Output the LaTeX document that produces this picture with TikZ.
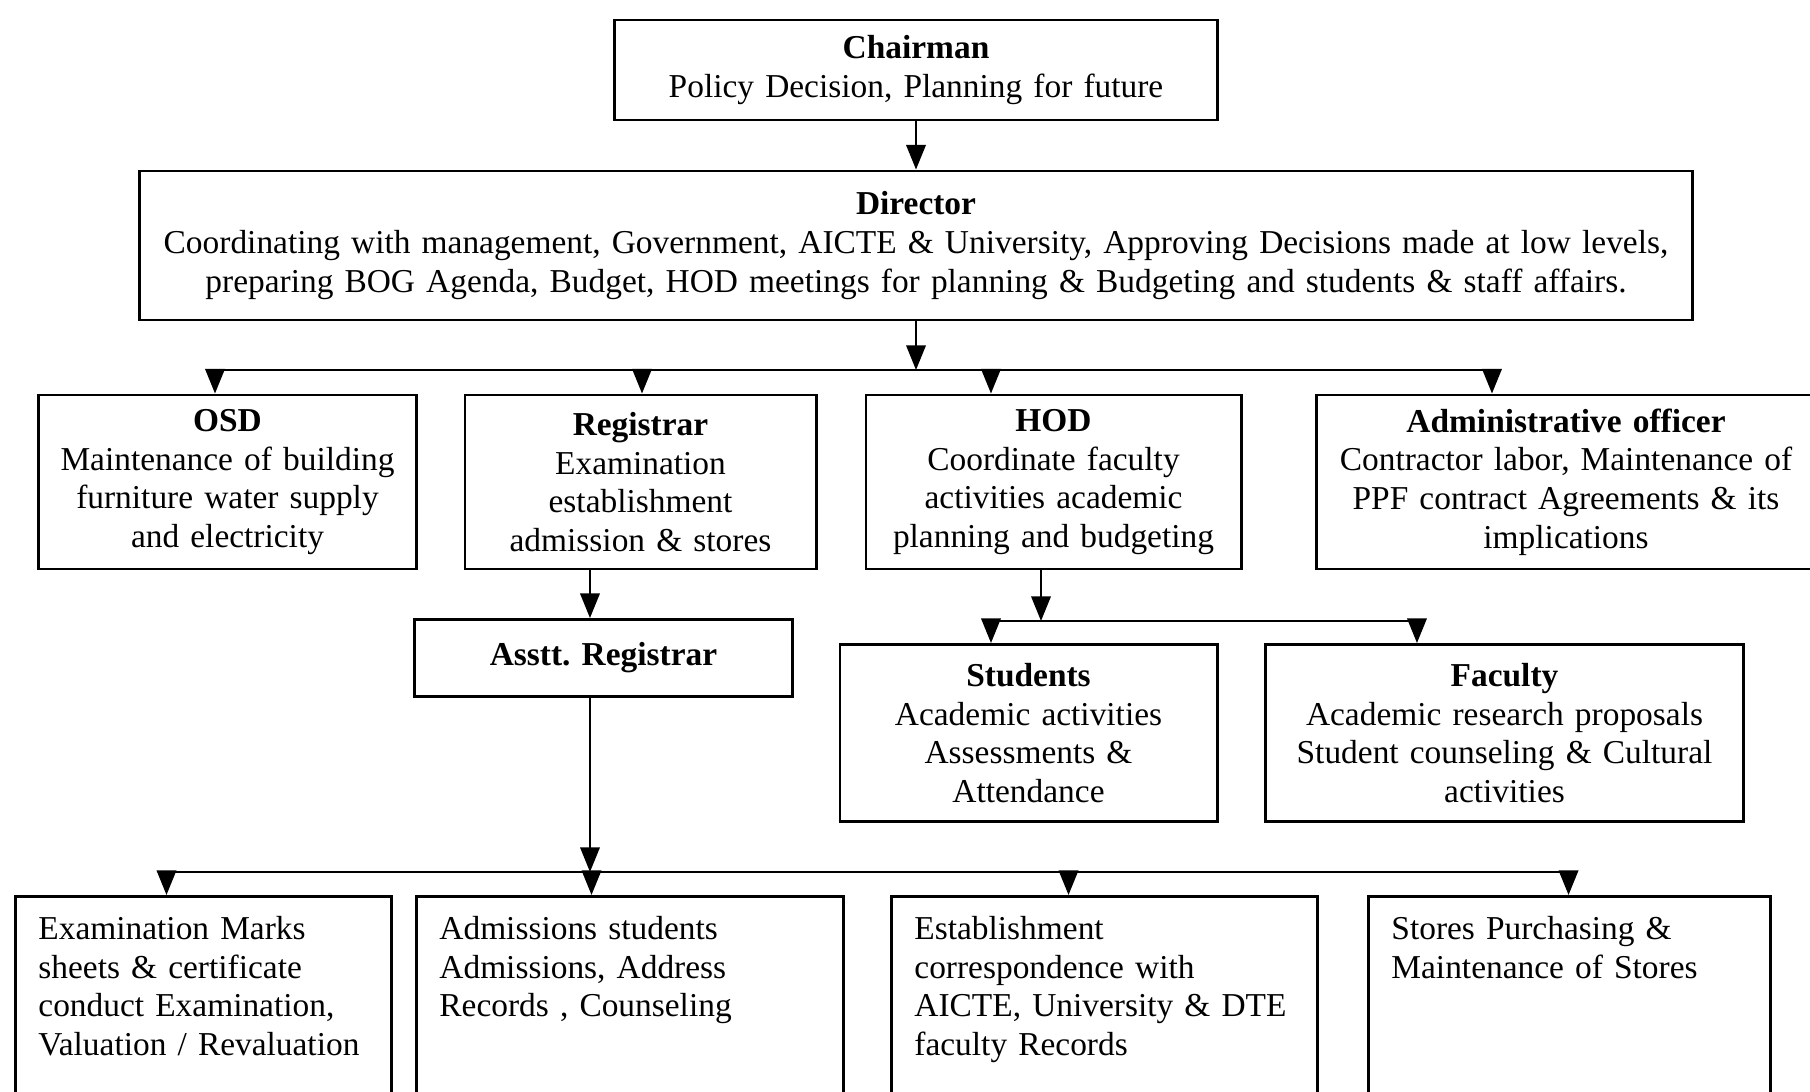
\documentclass[tikz,border=0pt]{standalone}
\usepackage{fontspec}
\setmainfont{Liberation Serif}
\frenchspacing
\usetikzlibrary{calc,arrows.meta}

\begin{document}
\begin{tikzpicture}[x=0.01cm,y=-0.01cm,>={Triangle[length=7pt,width=5.5pt]},line width=0.7pt,
                main node/.style={draw,line width=0.8pt,align=center,inner xsep=0.1cm,inner ysep=0pt,
                font=\fontsize{9.5}{11}\selectfont},
                task node/.style={draw,line width=0.8pt,align=left,anchor=north west,inner xsep=0.23cm,
                inner ysep=0.2cm,text depth=1.8cm,font=\fontsize{9.5}{11}\selectfont}]
	\useasboundingbox (0,0) rectangle (1810,1091);

	\node[main node,text width=5.82cm,minimum height=1cm] (1) at (916,70) {\textbf{Chairman}\\Policy Decision, Planning for future};
	\node[main node,text width=15.32cm,minimum height=1.49cm] (2) at (916,245.5) {\textbf{Director}\\Coordinating with management, Government, AICTE \& University, Approving Decisions made at low levels,\\preparing BOG Agenda, Budget, HOD meetings for planning \& Budgeting and students \& staff affairs.};
	\node[main node,text width=3.57cm,minimum height=1.74cm] (3) at (227.5,482) {\textbf{OSD}\\Maintenance of building\\furniture water supply\\and electricity};
	\node[main node,text width=3.31cm,minimum height=1.74cm] (4) at (640.5,482) {\textbf{Registrar}\\Examination\\establishment\\admission \& stores};
	\node[main node,text width=3.55cm,minimum height=1.74cm] (5) at (1053.5,482) {\textbf{HOD}\\Coordinate faculty\\activities academic\\planning and budgeting};
	\node[main node,text width=4.78cm,minimum height=1.74cm] (6) at (1566,482) {\textbf{Administrative officer}\\Contractor labor, Maintenance of\\PPF contract Agreements \& its\\implications};
	\node[main node,text width=3.57cm,minimum height=0.77cm] (7) at (603.5,658) {\textbf{Asstt. Registrar}};
	\node[main node,text width=3.57cm,minimum height=1.77cm] (8) at (1028.5,733) {\textbf{Students}\\Academic activities\\Assessments \&\\Attendance};
	\node[main node,text width=4.57cm,minimum height=1.77cm] (9) at (1504.5,733) {\textbf{Faculty}\\Academic research proposals\\Student counseling \& Cultural\\activities};
	\node[task node,text width=3.30cm] (10) at (14,895) {Examination Marks\\sheets \& certificate\\conduct Examination,\\Valuation / Revaluation};
	\node[task node,text width=3.81cm] (11) at (415,895) {Admissions students\\Admissions, Address\\Records , Counseling};
	\node[task node,text width=3.80cm] (12) at (890,895) {Establishment\\correspondence with\\AICTE, University \& DTE\\faculty Records};
	\node[task node,text width=3.56cm] (13) at (1367,895) {Stores Purchasing \&\\Maintenance of Stores};

	\path[->] (1) edge (2);

	\coordinate (d) at (916,370);
	\draw[->] (2) -- (d);
	\foreach \n/\s in {3/-0.125,4/0.015,5/-0.625,6/-0.74}{
		\coordinate (a\n) at ([xshift=\s cm]\n.north);
		\draw[->] (a\n |- d) -- (a\n);
	}
	\draw (a3 |- d) -- (a6 |- d);

	\coordinate (r) at ([xshift=-0.505cm]4.south);
	\draw[->] (r) -- (r |- 7.north);

	\coordinate (h) at ([xshift=-0.125cm]5.south);
	\coordinate (e) at (1041,621);
	\draw[->] (h) -- (h |- e);
	\foreach \n/\s in {8/-0.375,9/-0.875}{
		\coordinate (a\n) at ([xshift=\s cm]\n.north);
		\draw[->] (a\n |- e) -- (a\n);
	}
	\draw (a8 |- e) -- (a9 |- e);

	\coordinate (s) at ([xshift=-0.135cm]7.south);
	\coordinate (f) at (590,872);
	\draw[->] (s) -- (s |- f);
	\foreach \n/\s in {10/-0.37,11/-0.385,12/-0.36,13/-0.01}{
		\coordinate (a\n) at ([xshift=\s cm]\n.north);
		\draw[->] (a\n |- f) -- (a\n);
	}
	\draw (a10 |- f) -- (a13 |- f);

\end{tikzpicture}
\end{document}
